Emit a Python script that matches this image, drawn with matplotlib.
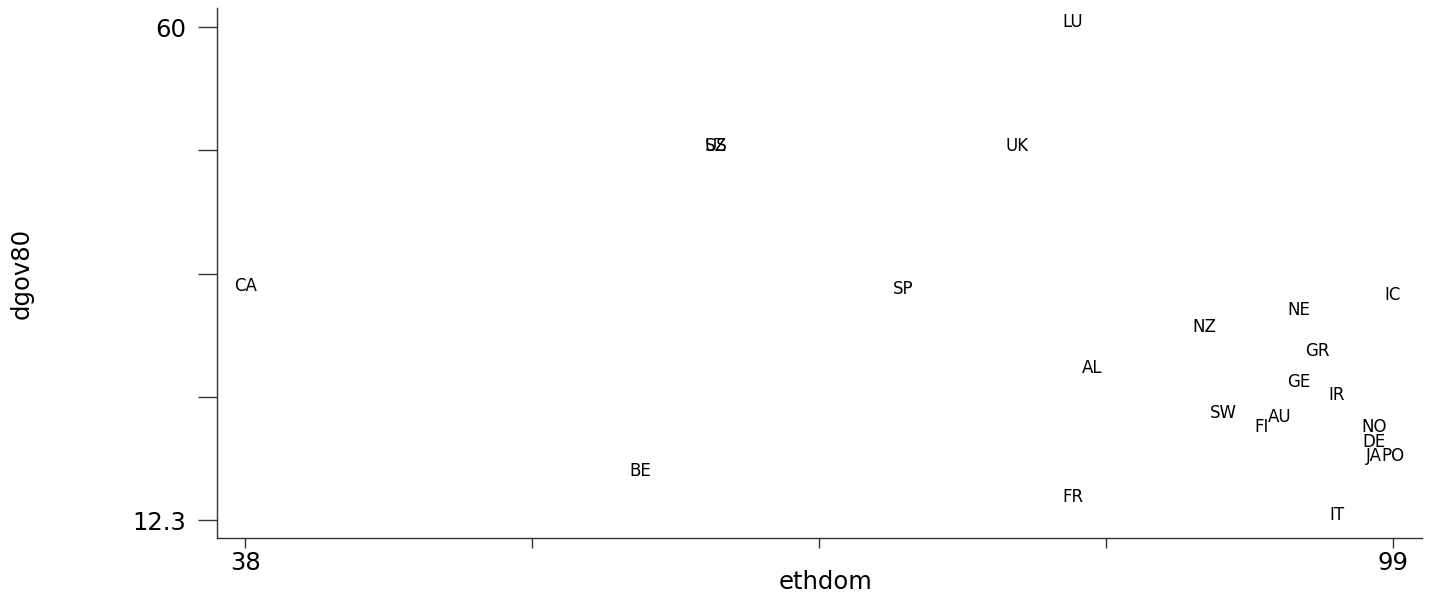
import matplotlib
matplotlib.use("Agg")
import matplotlib.pyplot as plt

# country codes used as markers
countries = ['LU', 'UK', 'US', 'SZ', 'CA', 'SP', 'IC', 'NE', 'NZ', 'GR', 'AL', 'GE',
             'IR', 'SW', 'AU', 'FI', 'NO', 'DE', 'JA', 'PO', 'BE', 'FR', 'IT']
ethdom = [82, 79, 63, 63, 38, 73, 99, 94, 89, 95, 83, 94,
          96, 90, 93, 92, 98, 98, 98, 99, 59, 82, 96]
dgov80 = [60.0, 48.0, 48.0, 48.0, 34.5, 34.2, 33.6, 32.1, 30.5, 28.2, 26.5, 25.2,
          23.9, 22.2, 21.8, 20.8, 20.8, 19.4, 18.0, 18.0, 16.6, 14.0, 12.3]

xticks = [38, 53.25, 68.5, 83.75, 99]
xtick_labels = ['38', '', '', '', '99']
yticks = [12.3, 24.225, 36.15, 48.075, 60]
ytick_labels = ['12.3', '', '', '', '60']

plt.rcParams['font.family'] = ['DejaVu Sans']

fig = plt.figure(figsize=(14.45, 5.94), dpi=100)
ax = fig.add_axes([0.1502, 0.0943, 0.8338, 0.8922])

# labels sit on the point, no symbol drawn
for name, x, y in zip(countries, ethdom, dgov80):
  ax.text(x, y, name, ha='center', va='baseline', fontsize=12, color='black')

ax.set_xlim(36.51, 100.54)
ax.set_ylim(10.56, 61.84)

for side in ('top', 'right'):
  ax.spines[side].set_visible(False)
for side in ('left', 'bottom'):
  ax.spines[side].set_color('#333333')
  ax.spines[side].set_linewidth(1.0)

ax.set_xticks(xticks)
ax.set_xticklabels(xtick_labels)
ax.set_yticks(yticks)
ax.set_yticklabels(ytick_labels)
ax.tick_params(axis='x', direction='out', length=7.5, width=1.0, color='#333333',
               labelsize=17.5, pad=2)
ax.tick_params(axis='y', direction='out', length=13.5, width=1.0, color='#333333',
               labelsize=17.5, pad=9)

ax.set_xlabel('ethdom', fontsize=17.5)
ax.set_ylabel('dgov80', fontsize=17.5)
ax.xaxis.set_label_coords(0.5046, -0.060)
ax.yaxis.set_label_coords(-0.152, 0.5)

fig.savefig('out.png', dpi=100, facecolor='white')
